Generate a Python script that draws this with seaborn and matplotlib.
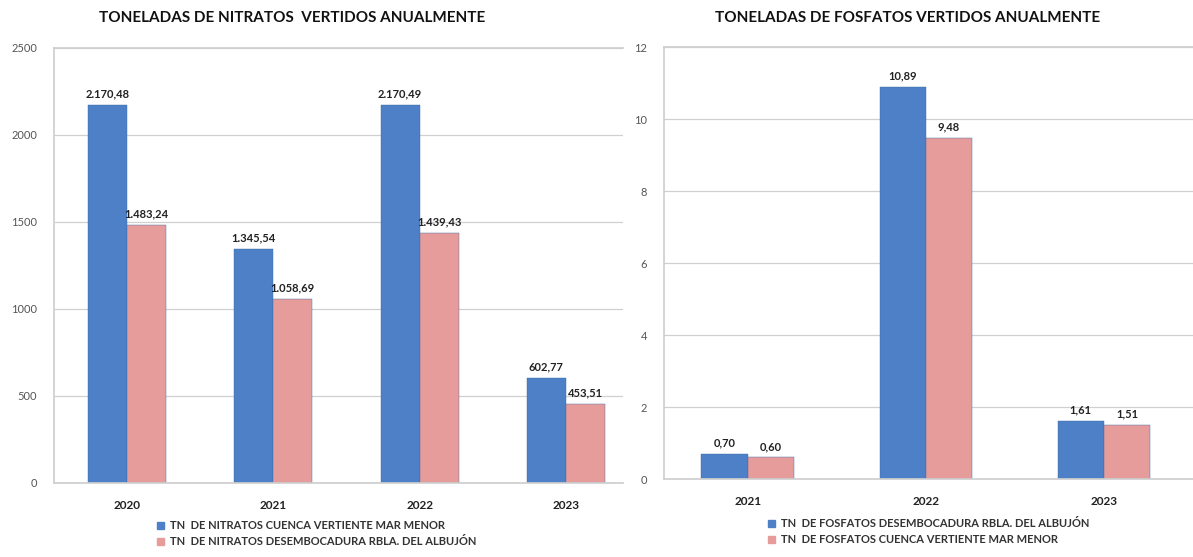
import matplotlib.pyplot as plt
import seaborn as sns
import pandas as pd

# --- data ---
years_nit = ['2020', '2021', '2022', '2023']
nit_cuenca = [2170.48, 1345.54, 2170.49, 602.77]
nit_albujon = [1483.24, 1058.69, 1439.43, 453.51]
nit_labels = ['TN  DE NITRATOS CUENCA VERTIENTE MAR MENOR',
              'TN  DE NITRATOS DESEMBOCADURA RBLA. DEL ALBUJÓN']

years_fos = ['2021', '2022', '2023']
fos_albujon = [0.70, 10.89, 1.61]
fos_cuenca = [0.60, 9.48, 1.51]
fos_labels = ['TN  DE FOSFATOS DESEMBOCADURA RBLA. DEL ALBUJÓN',
              'TN  DE FOSFATOS CUENCA VERTIENTE MAR MENOR']

df_nit = pd.DataFrame({
    'year': years_nit * 2,
    'value': nit_cuenca + nit_albujon,
    'serie': [nit_labels[0]] * 4 + [nit_labels[1]] * 4,
})
df_fos = pd.DataFrame({
    'year': years_fos * 2,
    'value': fos_albujon + fos_cuenca,
    'serie': [fos_labels[0]] * 3 + [fos_labels[1]] * 3,
})

BLUE = '#4D80C6'
PINK = '#E59C9A'


def es_fmt(v):
    # Spanish number format: 2.170,48
    s = f'{v:,.2f}'
    return s.replace(',', 'X').replace('.', ',').replace('X', '.')


sns.set_theme(style='white')
plt.rcParams['font.family'] = ['Lato', 'DejaVu Sans']

fig = plt.figure(figsize=(11.93, 5.57), dpi=100)
ax1 = fig.add_axes([54 / 1193, 0.1329, 569 / 1193, 0.781])
ax2 = fig.add_axes([0.5566, 0.140, 0.4434, 0.7756])


def draw(ax, df, labels, ymax, step, xlim, bw, title, title_x, leg_x, leg_y):
    sns.barplot(data=df, x='year', y='value', hue='serie', hue_order=labels,
                palette=[BLUE, PINK], width=bw, saturation=1,
                edgecolor='#3d6aa8', linewidth=0.3, ax=ax)
    for cont in ax.containers:
        ax.bar_label(cont, labels=[es_fmt(b.get_height()) for b in cont],
                     padding=4, fontsize=8, fontweight='bold', color='#222222')
    ax.set_ylim(0, ymax)
    ax.set_yticks(range(0, ymax + 1, step))
    ax.set_xlim(*xlim)
    ax.yaxis.grid(True, color='#d0d0d0', linewidth=0.9)
    ax.set_axisbelow(True)
    ax.set_xlabel('')
    ax.set_ylabel('')
    for side in ['left', 'top', 'bottom']:
        ax.spines[side].set_color('#cfcfcf')
    ax.spines['right'].set_visible(False)
    ax.tick_params(axis='y', labelsize=8, labelcolor='#555555', pad=12, length=0)
    ax.tick_params(axis='x', labelsize=8.5, labelcolor='#222222', pad=12, length=0)
    for t in ax.get_xticklabels():
        t.set_fontweight('bold')
    ax.get_legend().remove()
    handles = [plt.Rectangle((0, 0), 1, 1, color=c) for c in [BLUE, PINK]]
    fig.legend(handles, labels, loc='upper left',
               bbox_to_anchor=(leg_x, 1 - leg_y / 557), frameon=False,
               handlelength=0.6, handleheight=0.6,
               handletextpad=0.5, labelspacing=0.45, borderaxespad=0,
               prop={'weight': 'bold', 'size': 8})
    fig.text(title_x, 1 - 18 / 557, title, ha='center', va='center',
             fontsize=11, fontweight='bold', color='#111111')


draw(ax1, df_nit, nit_labels, 2500, 500, (-0.5, 3.39), 0.534,
     'TONELADAS DE NITRATOS  VERTIDOS ANUALMENTE', 292 / 1193, 153 / 1193, 516)
draw(ax2, df_fos, fos_labels, 12, 2, (-0.47, 2.5), 0.52,
     'TONELADAS DE FOSFATOS VERTIDOS ANUALMENTE', 908 / 1193, 764 / 1193, 514)

for t in fig.legends:
    for txt in t.get_texts():
        txt.set_color('#333333')

plt.savefig('out.png', dpi=100)
